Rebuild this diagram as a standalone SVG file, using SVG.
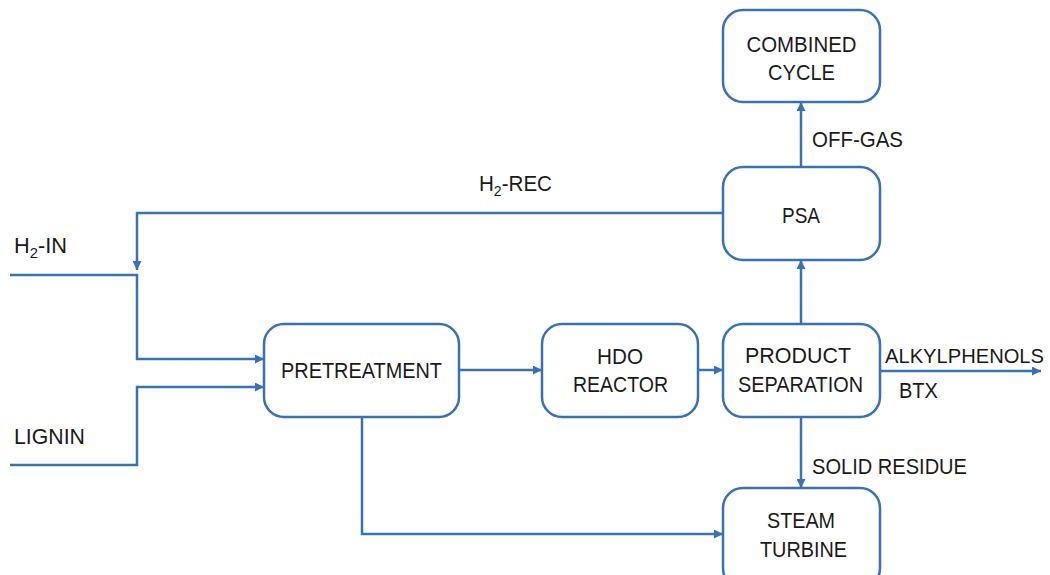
<svg xmlns="http://www.w3.org/2000/svg" width="1050" height="575" viewBox="0 0 1050 575">
<defs>
<marker id="arr" viewBox="0 0 10 10" refX="10" refY="5" markerWidth="9" markerHeight="9" markerUnits="userSpaceOnUse" orient="auto">
<path d="M0,0 L10,5 L0,10 Z" fill="#3a71b3"/>
</marker>
</defs>
<style>
.box{fill:#fff;stroke:#3a71b3;stroke-width:2.5}
.ln{fill:none;stroke:#3a71b3;stroke-width:2.5}
text{font-family:"Liberation Sans",Arial,sans-serif;font-size:22px;fill:#1a1a1a}
.c{text-anchor:middle}
</style>
<rect width="1050" height="575" fill="#fff"/>
<g id="connectors">
<path class="ln" d="M723,213 L137,213 L137,270" marker-end="url(#arr)"/>
<path class="ln" d="M10,275 L137,275 L137,359 L264,359" marker-end="url(#arr)"/>
<path class="ln" d="M10,465 L137,465 L137,387 L264,387" marker-end="url(#arr)"/>
<path class="ln" d="M459,370 L542,370" marker-end="url(#arr)"/>
<path class="ln" d="M698,370 L723,370" marker-end="url(#arr)"/>
<path class="ln" d="M880,371 L1041,371" marker-end="url(#arr)"/>
<path class="ln" d="M801,324 L801,260" marker-end="url(#arr)"/>
<path class="ln" d="M801,167 L801,102" marker-end="url(#arr)"/>
<path class="ln" d="M801,417 L801,488" marker-end="url(#arr)"/>
<path class="ln" d="M362,417 L362,534 L723,534" marker-end="url(#arr)"/>
</g>
<g id="labels">
<text x="14" y="253" textLength="53" lengthAdjust="spacingAndGlyphs">H<tspan font-size="15" dy="5">2</tspan><tspan dy="-5">-IN</tspan></text>
<text x="14" y="444" textLength="71" lengthAdjust="spacingAndGlyphs">LIGNIN</text>
<text x="479" y="191" textLength="73" lengthAdjust="spacingAndGlyphs">H<tspan font-size="15" dy="5">2</tspan><tspan dy="-5">-REC</tspan></text>
<text x="812" y="147" textLength="91" lengthAdjust="spacingAndGlyphs">OFF-GAS</text>
<text x="885" y="363" style="font-size:20.5px" textLength="159" lengthAdjust="spacingAndGlyphs">ALKYLPHENOLS</text>
<text x="899" y="398" textLength="39" lengthAdjust="spacingAndGlyphs">BTX</text>
<text x="812" y="474" textLength="155" lengthAdjust="spacingAndGlyphs">SOLID RESIDUE</text>
</g>
<g id="combined-cycle">
<rect class="box" x="723" y="10" width="157" height="92" rx="20"/>
<text class="c" x="801.5" y="52" textLength="110" lengthAdjust="spacingAndGlyphs">COMBINED</text>
<text class="c" x="801.5" y="80" textLength="67" lengthAdjust="spacingAndGlyphs">CYCLE</text>
</g>
<g id="psa">
<rect class="box" x="723" y="167" width="157" height="93" rx="20"/>
<text class="c" x="801" y="223" textLength="38" lengthAdjust="spacingAndGlyphs">PSA</text>
</g>
<g id="pretreatment">
<rect class="box" x="264" y="324" width="195" height="93" rx="20"/>
<text class="c" x="361.5" y="378" textLength="161" lengthAdjust="spacingAndGlyphs">PRETREATMENT</text>
</g>
<g id="hdo-reactor">
<rect class="box" x="542" y="324" width="156" height="93" rx="20"/>
<text class="c" x="620" y="364" textLength="46" lengthAdjust="spacingAndGlyphs">HDO</text>
<text class="c" x="620.5" y="392" textLength="95" lengthAdjust="spacingAndGlyphs">REACTOR</text>
</g>
<g id="product-separation">
<rect class="box" x="723" y="324" width="157" height="93" rx="20"/>
<text class="c" x="798" y="363" textLength="106" lengthAdjust="spacingAndGlyphs">PRODUCT</text>
<text class="c" x="800.5" y="392" textLength="125" lengthAdjust="spacingAndGlyphs">SEPARATION</text>
</g>
<g id="steam-turbine">
<rect class="box" x="723" y="488" width="157" height="100" rx="20"/>
<text class="c" x="801" y="528" textLength="68" lengthAdjust="spacingAndGlyphs">STEAM</text>
<text class="c" x="803.5" y="557" textLength="87" lengthAdjust="spacingAndGlyphs">TURBINE</text>
</g>
</svg>
